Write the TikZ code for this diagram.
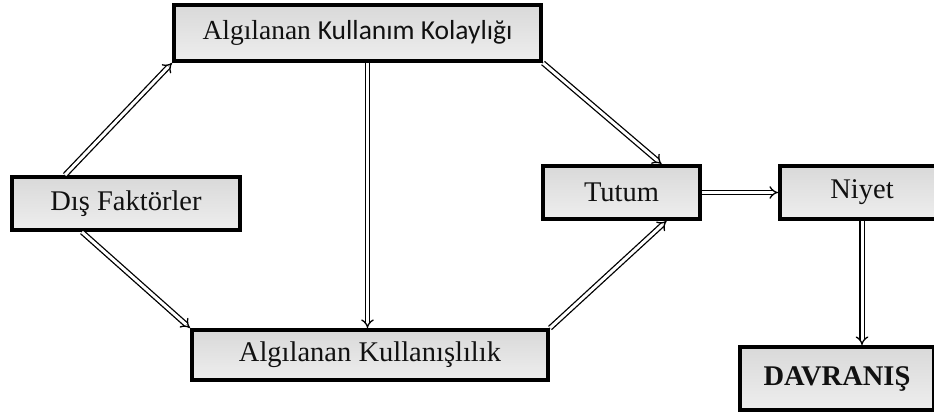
\documentclass[tikz,border=0pt]{standalone}
\usepackage{fontspec}
\setmainfont{Liberation Serif}
\newfontfamily\calibrifont{Carlito}
\usetikzlibrary{arrows.meta, positioning, calc, shadows}
\definecolor{boxtop}{HTML}{D9D9D9}
\definecolor{boxbot}{HTML}{EEEEEE}
\definecolor{ink}{HTML}{111111}

\begin{document}
\begin{tikzpicture}[x=1pt, y=-1pt, font=\fontsize{28.5}{32}\selectfont,
    box/.style={draw=black, line width=4pt, top color=boxtop, bottom color=boxbot, text=ink,
                inner sep=0pt, drop shadow={opacity=0.25, shadow xshift=2pt, shadow yshift=-2pt}},
    flow/.style={draw=black, line width=1.3pt, double=white, double distance=3pt, -{Implies[scale=1.3]}}]

  \useasboundingbox (0,0) rectangle (934,418);

  % The model boxes.
  \node[box, minimum width=367pt, minimum height=56pt, font=\fontsize{27.5}{32}\selectfont] (kolay) at (357.5,33)
    {Algılanan {\calibrifont Kullanım Kolaylığı}};
  \node[box, minimum width=228pt, minimum height=53pt] (dis) at (126,203.5) {Dış Faktörler};
  \node[box, minimum width=157pt, minimum height=53pt] (tutum) at (621.5,192.5) {Tutum};
  \node[box, minimum width=164pt, minimum height=53pt, right=76pt of tutum] (niyet) {Niyet};
  \node[box, minimum width=356pt, minimum height=50pt] (kullanis) at (370,355) {Algılanan Kullanışlılık};
  \node[box, minimum width=194pt, minimum height=63pt, font=\fontsize{28.5}{32}\selectfont\bfseries] (davr)
    at (837,378.5) {DAVRANIŞ};

  % Flows from the external factors.
  \draw[flow] ([xshift=55pt]dis.north west) -- (kolay.south west);
  \draw[flow] ([xshift=72pt]dis.south west) -- (kullanis.north west);

  % Ease of use -> usefulness, attitude.
  \draw[flow] ([xshift=10pt]kolay.south) -- ([xshift=10pt]kolay.south |- kullanis.north);
  \draw[flow] (kolay.south east) -- ([xshift=40pt]tutum.north);
  \draw[flow] (kullanis.north east) -- ([xshift=45pt]tutum.south);

  % Attitude -> intention -> behaviour.
  \draw[flow] (tutum.east) -- (niyet.west);
  \draw[flow] (niyet.south) -- (niyet.south |- davr.north);
\end{tikzpicture}
\end{document}
